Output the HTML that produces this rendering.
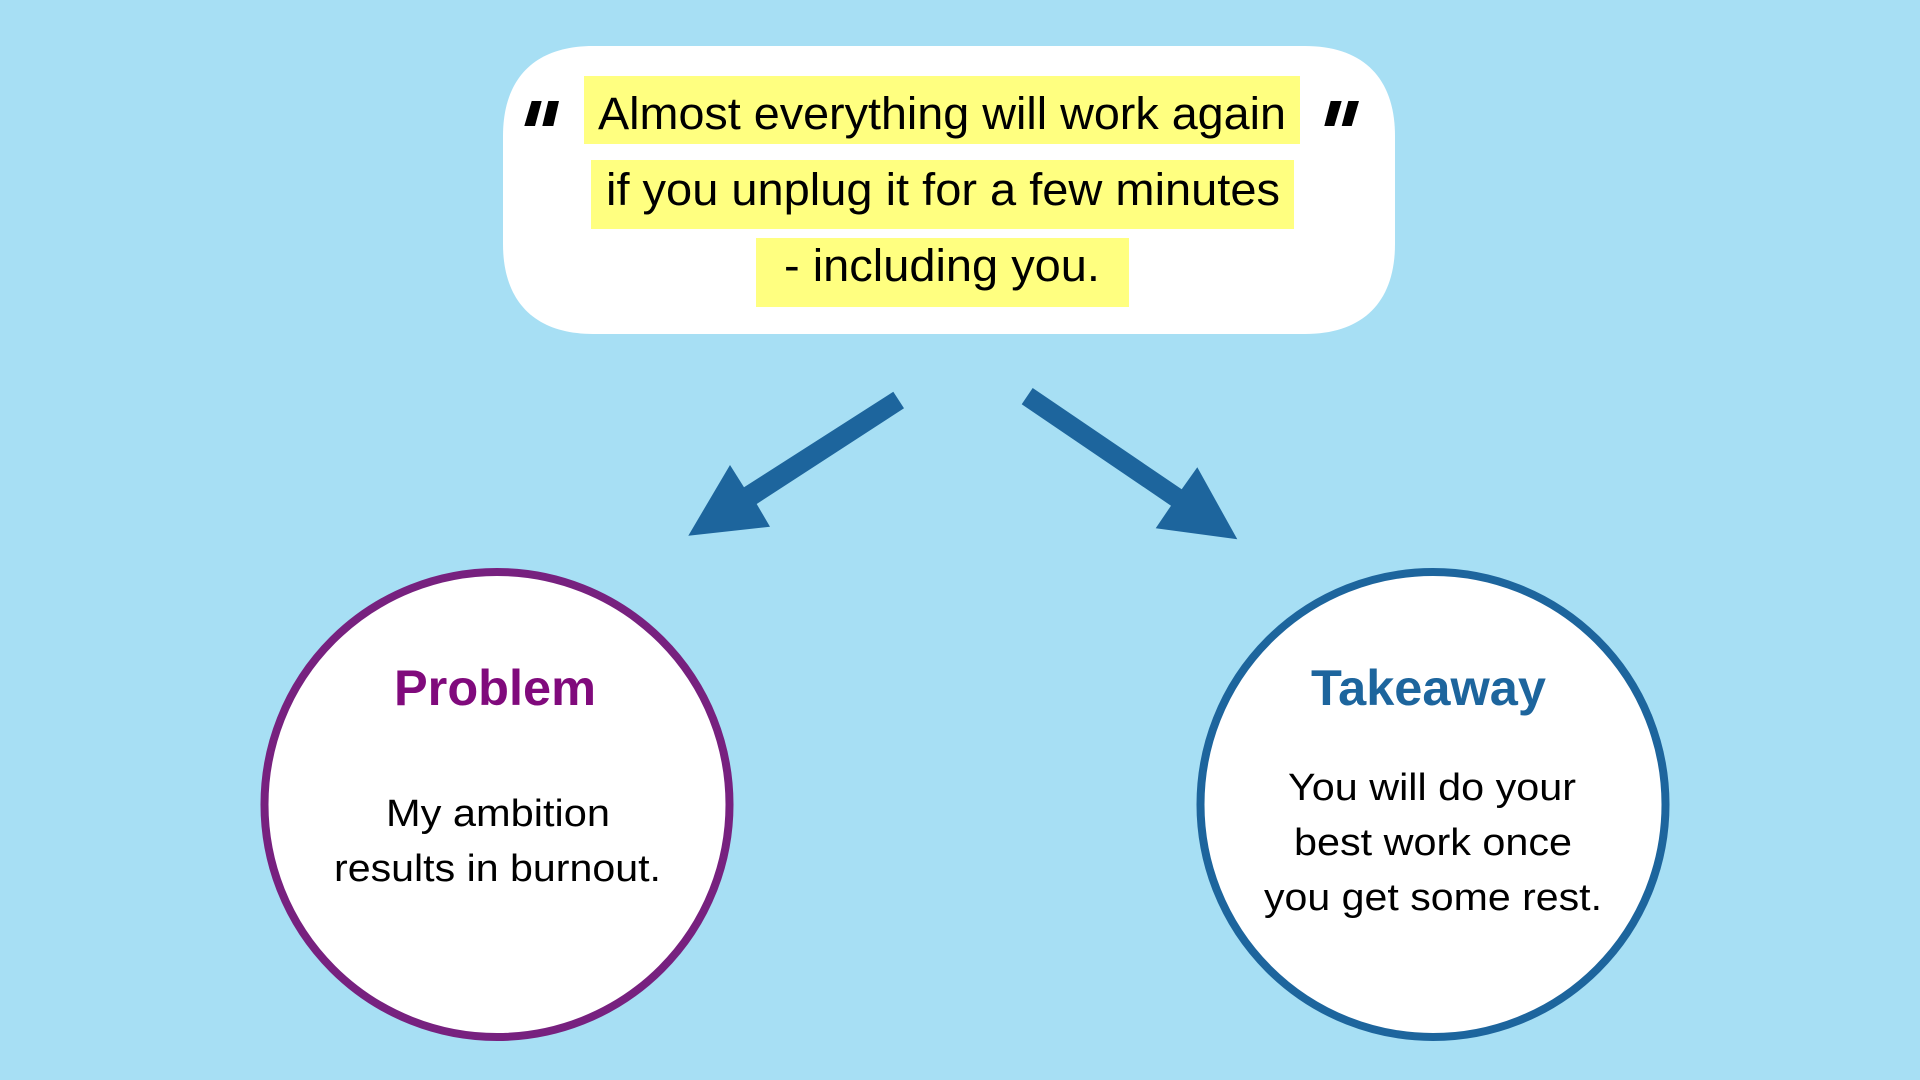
<!DOCTYPE html>
<html>
<head>
<meta charset="utf-8">
<style>
html,body{margin:0;padding:0;width:1920px;height:1080px;overflow:hidden;background:#a7dff4}
svg{display:block}
text{font-family:"Liberation Sans",sans-serif;fill:#000}
</style>
</head>
<body>
<svg width="1920" height="1080" viewBox="0 0 1920 1080" xmlns="http://www.w3.org/2000/svg">
<rect width="1920" height="1080" fill="#a7dff4"/>
<path d="M593 46 H1305 C1363 46 1395 78 1395 136 V244 C1395 302 1363 334 1305 334 H593 C535 334 503 302 503 244 V136 C503 78 535 46 593 46 Z" fill="#fff"/>
<rect x="584" y="76" width="716" height="68" fill="#ffff80"/>
<rect x="591" y="160" width="703" height="69" fill="#ffff80"/>
<rect x="756" y="238" width="373" height="69" fill="#ffff80"/>
<polygon points="531.7,101 541.7,101 535,126 524.3,126" fill="#000"/>
<polygon points="548.3,101 559,101 553.3,126 542.3,126" fill="#000"/>
<polygon points="1330.7,101 1341.7,101 1334.3,126 1324.3,126" fill="#000"/>
<polygon points="1348.3,101 1359,101 1351.7,126 1341.7,126" fill="#000"/>
<text x="598" y="129" font-size="45" textLength="688" lengthAdjust="spacingAndGlyphs">Almost everything will work again</text>
<text x="606" y="205" font-size="45" textLength="674" lengthAdjust="spacingAndGlyphs">if you unplug it for a few minutes</text>
<text x="784" y="281" font-size="45" textLength="316" lengthAdjust="spacingAndGlyphs">- including you.</text>
<polygon points="893.3,391.7 904,408.3 756.7,504 770,526.7 688.3,535.7 730,465 744,487.3" fill="#1d659d"/>
<polygon points="1032.7,388 1021.7,404.3 1171,505.7 1155.7,528.3 1237.3,539.3 1197.3,467.3 1181.7,489.3" fill="#1d659d"/>
<circle cx="497" cy="804.5" r="232.5" fill="#fff" stroke="#77217f" stroke-width="8"/>
<circle cx="1433" cy="804.5" r="232.5" fill="#fff" stroke="#1d659d" stroke-width="8"/>
<text x="394" y="705" font-size="50" font-weight="bold" style="fill:#800a7c" textLength="202" lengthAdjust="spacingAndGlyphs">Problem</text>
<text x="1311" y="705" font-size="50" font-weight="bold" style="fill:#1d659d" textLength="235" lengthAdjust="spacingAndGlyphs">Takeaway</text>
<text x="386" y="826" font-size="38" textLength="224" lengthAdjust="spacingAndGlyphs">My ambition</text>
<text x="334" y="881" font-size="38" textLength="327" lengthAdjust="spacingAndGlyphs">results in burnout.</text>
<text x="1288" y="800" font-size="38" textLength="288" lengthAdjust="spacingAndGlyphs">You will do your</text>
<text x="1294" y="855" font-size="38" textLength="278" lengthAdjust="spacingAndGlyphs">best work once</text>
<text x="1264" y="910" font-size="38" textLength="338" lengthAdjust="spacingAndGlyphs">you get some rest.</text>
</svg>
</body>
</html>
